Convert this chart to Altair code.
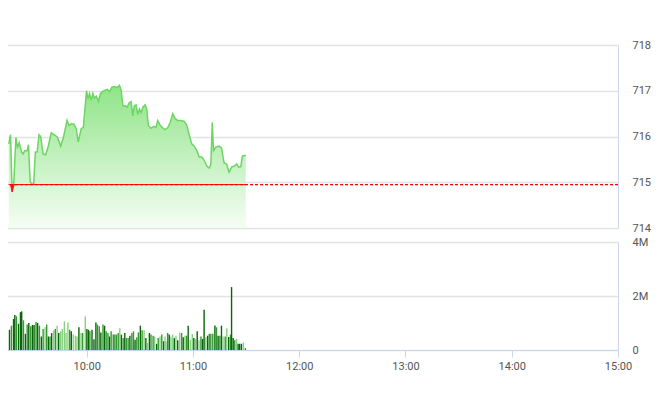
import altair as alt
import pandas as pd

# ---- price series (minutes after 09:15, index value) ----
price_min = [1.0,2.0,2.9,3.8,5.0,5.9,6.9,8.2,9.1,10.0,
             11.4,12.1,13.1,14.2,15.1,16.0,17.0,18.1,19.0,20.4,
             21.8,23.2,25.0,26.9,28.4,30.3,32.0,33.9,35.0,36.3,
             37.8,39.1,40.2,41.9,43.1,44.9,45.7,46.6,47.6,48.5,
             49.4,50.4,51.7,52.8,54.2,55.4,56.6,57.9,59.2,60.7,
             62.2,63.5,64.5,65.4,66.7,67.8,69.1,70.1,71.0,71.9,
             72.9,73.9,74.8,75.7,76.7,78.0,78.9,79.8,81.3,82.9,
             84.1,85.1,86.6,87.9,89.2,90.7,92.2,93.6,94.8,96.4,
             98.2,100.1,101.6,102.9,104.3,105.7,107.2,108.5,110.0,111.3,
             112.9,114.2,115.1,115.9,116.6,117.9,119.8,121.1,122.6,124.0,
             125.4,126.8,128.2,129.7,130.7,132.0,132.9,134.8]
prices = [715.84,716.04,714.79,714.94,715.98,715.77,715.86,715.66,715.62,715.69,
          715.69,715.82,715.0,714.96,714.96,715.66,715.66,716.04,716.0,715.62,
          715.6,715.77,716.08,716.03,715.99,715.79,716.0,716.35,716.24,716.28,
          716.27,716.17,715.88,716.17,716.2,717.0,716.82,716.94,716.79,716.94,
          716.84,716.88,716.77,716.94,716.99,717.01,717.03,716.98,717.08,717.09,
          717.07,717.12,717.01,716.67,716.67,716.64,716.74,716.76,716.45,716.67,
          716.69,716.48,716.6,716.52,716.64,716.69,716.6,716.24,716.18,716.22,
          716.2,716.35,716.24,716.19,716.15,716.19,716.31,716.5,716.4,716.35,
          716.35,716.33,716.24,716.03,715.84,715.79,715.69,715.55,715.55,715.48,
          715.35,715.31,715.4,716.31,715.69,715.77,715.79,715.75,715.42,715.4,
          715.22,715.33,715.35,715.4,715.33,715.34,715.57,715.59]
REF = 714.95

# ---- volume (minutes after 09:15, millions, shade) ----
vol_min = [1.4,2.5,3.7,4.4,5.3,6.5,7.6,8.3,9.3,10.4,
           11.4,12.3,13.4,14.4,15.3,16.4,17.3,18.3,19.4,20.4,
           21.5,22.4,23.4,24.3,25.2,26.3,27.3,28.3,29.2,30.3,
           31.2,32.4,33.3,34.4,35.4,36.3,37.4,38.6,39.5,40.6,
           41.8,42.7,44.2,45.1,
           46.0,46.8,48.0,49.1,50.2,51.1,52.1,53.0,54.2,55.1,
           56.0,57.0,57.9,58.8,60.0,60.9,61.8,62.8,63.7,64.6,
           65.6,66.5,67.4,68.4,69.4,70.5,71.4,72.3,73.3,74.2,
           75.3,76.3,77.4,78.4,79.3,80.4,81.3,82.5,83.4,84.5,
           85.4,86.4,87.4,88.5,89.2,
           89.8,90.7,91.6,92.6,93.6,94.5,95.4,96.4,97.5,98.6,
           99.5,100.5,101.4,102.3,103.5,104.6,105.5,106.5,107.4,108.4,
           109.5,110.4,111.3,112.3,113.3,114.2,115.1,116.2,117.4,118.3,
           119.2,120.2,121.1,122.0,123.2,124.1,125.2,126.2,126.8,127.7,
           128.6,129.6,130.5,131.4,132.4,133.5,134.6]
volumes = [0.75,0.9,1.15,1.3,1.25,0.97,1.4,1.43,1.1,0.6,
           0.94,1.0,0.88,0.93,0.93,1.04,1.0,0.9,0.5,0.78,
           0.84,0.94,0.5,0.5,0.63,0.73,0.78,0.9,0.63,0.69,
           0.78,1.06,0.63,1.02,0.75,0.69,0.57,0.53,0.5,0.84,
           0.63,0.63,1.25,0.78,
           0.75,0.69,0.75,0.4,1.02,0.94,0.88,0.65,0.94,0.9,
           0.69,0.63,0.5,0.69,0.57,0.57,0.57,0.63,0.81,0.57,
           0.44,0.63,0.44,0.44,0.53,0.63,0.69,0.38,0.47,0.65,
           0.9,0.73,0.73,0.44,0.26,0.63,0.57,0.53,0.5,0.23,
           0.44,0.5,0.57,0.32,0.5,
           0.32,0.63,0.57,0.5,0.57,0.44,0.53,0.36,0.65,0.63,
           0.47,0.53,0.53,0.9,0.38,0.59,0.44,0.41,0.69,0.36,
           0.5,0.41,1.49,0.47,0.53,0.6,0.6,0.6,0.91,0.84,
           0.53,0.53,0.9,0.5,0.5,0.81,0.48,0.57,2.33,0.44,
           0.36,0.41,0.23,0.23,0.23,0.28,0.07]
shades = list("dmddmdddmd" "mdmddmdmdm" "lmdmdlmldl" "llllmdllld" "lmld"
              "dmdddmmdmd" "mmdmmmmmld" "mdmmdmmdmm" "dmldldmmld" "mlmdl"
              "lmdlldldlm" "dlmdlldldl" "mddldmmmdm" "dmdlmldmdd" "mldddlm")

hour_ticks = [45, 105, 165, 225, 285, 345]
FONT = "Roboto"

price_df = pd.DataFrame({"t": price_min, "price": prices})
price_df["low"] = price_df["price"].clip(upper=REF)
vol_df = pd.DataFrame({"t": vol_min, "vol": volumes, "shade": shades})

xscale = alt.Scale(domain=[0, 345], nice=False, zero=False, padding=0)
yscale = alt.Scale(domain=[714, 718], nice=False, zero=False)
yaxis = alt.Axis(orient="right", values=[714, 715, 716, 717, 718], title=None,
                 grid=True, gridColor="#e2e2e2", gridWidth=1.5,
                 domain=True, domainColor="#ccd6eb", ticks=False,
                 labelPadding=14, labelColor="#555555", labelFontSize=11, labelFont=FONT)

base = alt.Chart(price_df)
area = base.mark_area(
    color=alt.Gradient(gradient="linear",
                       stops=[alt.GradientStop(color="#f6fdf5", offset=0),
                              alt.GradientStop(color="#8fe487", offset=1)],
                       x1=1, x2=1, y1=1, y2=0)
).encode(
    x=alt.X("t:Q", scale=xscale, axis=None),
    y=alt.Y("price:Q", scale=yscale, axis=yaxis),
    y2=alt.datum(714),
)
line = base.mark_line(color="#6bd762", strokeWidth=1.5).encode(
    x=alt.X("t:Q", scale=xscale, axis=None),
    y=alt.Y("price:Q", scale=yscale, axis=yaxis),
)
red = base.mark_area(color="#ff1010", stroke="#ff1010", strokeWidth=1).encode(
    x=alt.X("t:Q", scale=xscale, axis=None),
    y=alt.Y("low:Q", scale=yscale, axis=yaxis),
    y2=alt.datum(REF),
)
ref_rule = alt.Chart(pd.DataFrame({"ref": [REF]})).mark_rule(
    color="#ff0000", strokeDash=[3, 2], strokeWidth=1.3
).encode(y=alt.Y("ref:Q", scale=yscale, axis=yaxis))

top = alt.layer(area, line, red, ref_rule).properties(width=611, height=183)

bars = alt.Chart(vol_df).mark_bar(size=1.4).encode(
    x=alt.X("t:Q", scale=xscale,
            axis=alt.Axis(values=hour_ticks, title=None, grid=False, labelFlush=False,
                          labelExpr="(floor((datum.value + 15) / 60) + 9) + ':00'",
                          domainColor="#ccd6eb", tickColor="#ccd6eb", tickSize=7,
                          labelPadding=3, labelColor="#555555", labelFontSize=11,
                          labelFont=FONT)),
    y=alt.Y("vol:Q", scale=alt.Scale(domain=[0, 4], nice=False),
            axis=alt.Axis(orient="right", values=[0, 2, 4], title=None,
                          labelExpr="datum.value == 0 ? '0' : datum.value + 'M'",
                          grid=True, gridColor="#e2e2e2", gridWidth=1.5,
                          domain=True, domainColor="#ccd6eb", ticks=False,
                          labelPadding=14, labelColor="#555555", labelFontSize=11,
                          labelFont=FONT)),
    color=alt.Color("shade:N", legend=None,
                    scale=alt.Scale(domain=["d", "m", "l"],
                                    range=["#086508", "#33992f", "#86d280"])),
).properties(width=611, height=108)

chart = alt.vconcat(top, bars, spacing=14, bounds="flush").properties(
    padding={"left": -3, "top": 31, "right": 0, "bottom": 0}
).configure_view(stroke=None)

chart.save("out.html", embed_options={"renderer": "svg", "actions": False})
